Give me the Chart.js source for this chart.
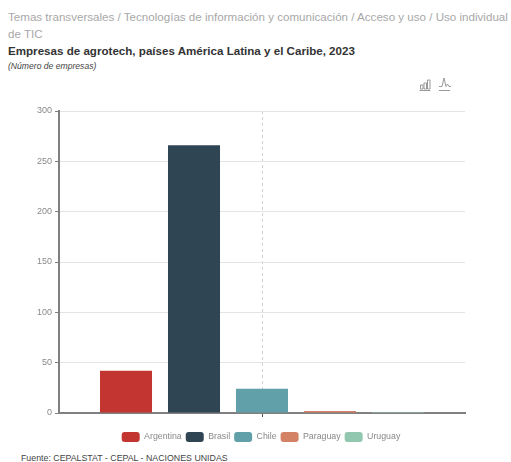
<!DOCTYPE html>
<html lang="es">
<head>
<meta charset="utf-8">
<title>Empresas de agrotech</title>
<script src="https://cdn.jsdelivr.net/npm/chart.js@4/dist/chart.umd.min.js"></script>
<style>
  html, body { margin: 0; padding: 0; background: #fff; }
  body { width: 511px; height: 462px; position: relative; overflow: hidden; font-family: "Liberation Sans", Arial, sans-serif; }
  .txt { position: absolute; left: 8px; white-space: nowrap; }
  #ruta { top: 9px; font-size: 11.6px; line-height: 16.5px; color: #a8a8a8; white-space: normal; width: 503px; }
  #titulo { top: 44px; font-size: 11.6px; font-weight: bold; color: #333; }
  #unidad { top: 61px; font-size: 8.6px; font-style: italic; color: #444; }
  #fuente { left: 21px; top: 453px; font-size: 8.8px; color: #444; }
  #iconos { position: absolute; left: 418px; top: 77px; }
  #grafico { position: absolute; left: 0; top: 95px; width: 511px; height: 357px; }
</style>
</head>
<body>
<div class="txt" id="ruta">Temas transversales / Tecnologías de información y comunicación / Acceso y uso / Uso individual de TIC</div>
<div class="txt" id="titulo">Empresas de agrotech, países América Latina y el Caribe, 2023</div>
<div class="txt" id="unidad">(Número de empresas)</div>
<svg id="iconos" width="34" height="15" fill="none" stroke="#999" stroke-width="1">
  <path d="M1.500 13.500H12.500M2.500 12V8H5V12ZM6 12V6H8.500V12ZM9.500 12V3H12V12Z"/>
  <path d="M21 13.500H32M21 9.500H24L26 1L28 9.500L29.500 7L31 9.500H33"/>
</svg>
<div id="grafico"><canvas id="graf1"></canvas></div>
<div class="txt" id="fuente">Fuente: CEPALSTAT - CEPAL - NACIONES UNIDAS</div>
<script>
var anios = ['2023'];
var paises = ['Argentina', 'Brasil', 'Chile', 'Paraguay', 'Uruguay'];
var empresas = [42, 266, 24, 2, 1];
var colores = ['#c23531', '#2f4554', '#61a0a8', '#d48265', '#91c7ae'];
var marcasY = [0, 50, 100, 150, 200, 250, 300];

var series = paises.map(function (pais, i) {
    return {
        label: pais,
        data: [empresas[i]],
        backgroundColor: colores[i],
        borderColor: colores[i],
        categoryPercentage: 0.8374,
        barPercentage: 0.765
    };
});

var graf1 = new Chart(document.getElementById('graf1'), {
    type: 'bar',
    data: {
        labels: anios,
        datasets: series
    },
    options: {
        responsive: true,
        maintainAspectRatio: false,
        animation: false,
        layout: { padding: { left: 11, right: 0, top: 16, bottom: 0 } },
        plugins: {
            tooltip: { enabled: false },
            legend: {
                position: 'bottom',
                labels: {
                    boxWidth: 18,
                    boxHeight: 10,
                    padding: 4,
                    color: '#888',
                    font: { family: '"Liberation Sans", Arial, sans-serif', size: 8.8 },
                    generateLabels: function (chart) {
                        return chart.data.datasets.map(function (d, i) {
                            return {
                                text: d.label,
                                fillStyle: d.backgroundColor,
                                strokeStyle: d.backgroundColor,
                                lineWidth: 0,
                                fontColor: '#888',
                                datasetIndex: i,
                                borderRadius: 3
                            };
                        });
                    }
                }
            }
        },
        scales: {
            x: {
                ticks: { display: false },
                border: { color: '#808080', width: 2, dash: [3, 3] },
                grid: {
                    offset: false,
                    color: '#cfcfcf',
                    tickColor: '#555',
                    tickLength: 4,
                    tickBorderDash: [],
                    lineWidth: 1
                },
                afterFit: function (scale) { scale.height = 15; }
            },
            y: {
                min: 0,
                max: 300,
                afterBuildTicks: function (scale) {
                    scale.ticks = marcasY.map(function (v) { return { value: v }; });
                },
                afterFit: function (scale) { scale.width = 48; },
                ticks: {
                    color: '#888',
                    padding: 3,
                    font: { family: '"Liberation Sans", Arial, sans-serif', size: 9 }
                },
                border: { color: '#808080', width: 2 },
                grid: { color: '#e4e4e4', tickColor: '#808080', tickLength: 4 }
            },
            // margen derecho, asi la leyenda queda centrada sobre el ancho del grafico
            margen: {
                axis: 'y',
                position: 'right',
                ticks: { display: false },
                border: { display: false },
                grid: { display: false },
                afterFit: function (scale) { scale.width = 46; }
            }
        }
    }
});
</script>
</body>
</html>
